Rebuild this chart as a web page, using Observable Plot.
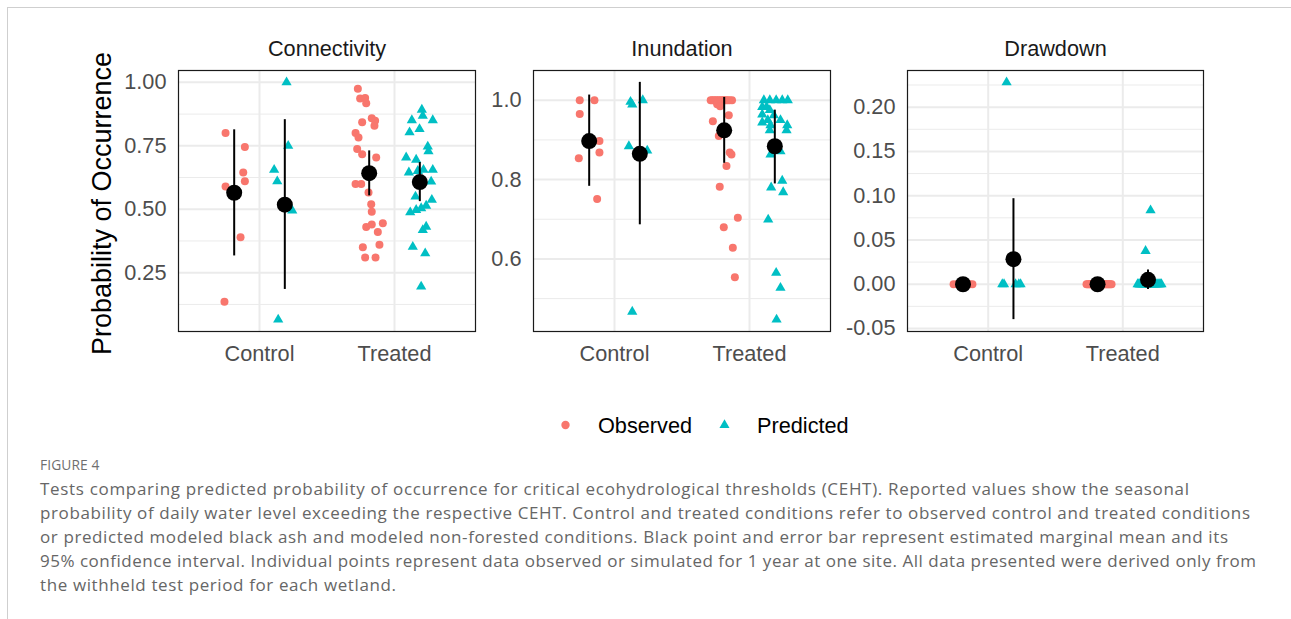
<!DOCTYPE html>
<html>
<head>
<meta charset="utf-8">
<script src="https://cdn.jsdelivr.net/npm/d3@7"></script>
<script src="https://cdn.jsdelivr.net/npm/@observablehq/plot@0.6"></script>
<style>
  html, body { margin: 0; padding: 0; background: #fff; }
  body { width: 1291px; height: 619px; overflow: hidden; position: relative; font-family: "Liberation Sans", Arial, sans-serif; }
  #card { position: absolute; left: 7px; top: 7px; width: 1320px; height: 640px; border-top: 1px solid #cfcfcf; border-left: 1px solid #cfcfcf; }
  .panel { position: absolute; top: 25px; }
  .panel svg { display: block; }
  #legend { position: absolute; left: 0; top: 405px; }
  #figlabel { position: absolute; left: 40px; top: 455px; font: 13.8px "Open Sans", Lato, sans-serif; color: #6f6f6f; letter-spacing: 0.1px; }
  .capline { position: absolute; left: 40px; white-space: nowrap; font-family: "Open Sans", Lato, sans-serif; font-size: 17px; line-height: 24px; color: #666; }
</style>
</head>
<body>
<div id="card"></div>
<div id="p0" class="panel"></div>
<div id="p1" class="panel"></div>
<div id="p2" class="panel"></div>
<div id="legend"></div>
<div id="figlabel">FIGURE 4</div>
<div id="caption"></div>
<script>
// ---- categories ----
const facets = ["Connectivity", "Inundation", "Drawdown"];
const conditions = ["Control", "Treated"];
const sources = ["Observed", "Predicted"];

// ---- Connectivity: one value per site-year, plus its horizontal jitter (category units) ----
const connControlObs = [0.80, 0.745, 0.645, 0.61, 0.59, 0.39, 0.135];
const connControlObsJit = [-0.064, 0.079, 0.067, 0.079, -0.064, 0.047, -0.072];
const connControlPred = [1.00, 0.75, 0.655, 0.61, 0.495, 0.065];
const connControlPredJit = [0.013, 0.025, -0.079, -0.056, 0.055, -0.049];
const connTreatedObs = [0.975, 0.936, 0.938, 0.918, 0.843, 0.859, 0.849, 0.829, 0.80, 0.783, 0.737, 0.717, 0.704,
  0.599, 0.599, 0.566, 0.52, 0.49, 0.43, 0.44, 0.445, 0.41, 0.35, 0.36, 0.31, 0.31];
const connTreatedObsJit = [-0.084, -0.067, -0.030, -0.022, -0.052, 0.019, 0.044, 0.039, -0.101, -0.079, -0.089, -0.052, 0.052,
  -0.101, -0.059, -0.005, 0.015, 0.019, -0.022, 0.019, 0.101, 0.064, -0.047, 0.076, -0.030, 0.047];
const connTreatedPred = [0.892, 0.868, 0.851, 0.851, 0.816, 0.803, 0.747, 0.728, 0.704, 0.695, 0.645, 0.651, 0.655,
  0.655, 0.609, 0.55, 0.537, 0.514, 0.504, 0.497, 0.488, 0.431, 0.418, 0.352, 0.326, 0.195];
const connTreatedPredJit = [0.015, 0.022, -0.059, 0.096, -0.002, -0.076, 0.059, 0.064, -0.101, -0.027, -0.081, -0.015, 0.096,
  0.027, 0.084, -0.032, 0.089, 0.047, 0.010, -0.027, -0.071, 0.047, 0.022, -0.052, 0.040, 0.010];
// marginal means and 95% CI, order: Control/Observed, Control/Predicted, Treated/Observed, Treated/Predicted
const connMean = [0.565, 0.518, 0.642, 0.607];
const connLower = [0.316, 0.184, 0.553, 0.530];
const connUpper = [0.813, 0.853, 0.730, 0.684];

// ---- Inundation ----
const inunControlObs = [1.0, 1.0, 0.965, 0.897, 0.868, 0.854, 0.751];
const inunControlObsJit = [-0.070, 0.039, -0.070, 0.076, 0.076, -0.077, 0.059];
const inunControlPred = [0.996, 0.989, 1.0, 0.884, 0.873, 0.467];
const inunControlPredJit = [-0.069, -0.056, 0.022, -0.081, 0.055, -0.056];
const inunTreatedObs = [1.0, 1.0, 1.0, 1.0, 1.0, 1.0, 1.0, 1.0, 1.0, 1.0, 1.0, 1.0, 1.0,
  0.99, 0.985, 0.962, 0.947, 0.91, 0.868, 0.863, 0.834, 0.782, 0.704, 0.68, 0.628, 0.554];
const inunTreatedObsJit = [-0.100, -0.088, -0.075, -0.062, -0.050, -0.037, -0.025, -0.012, 0.000, 0.012, 0.025, 0.040, 0.058,
  -0.052, -0.030, 0.034, -0.084, -0.040, 0.041, 0.054, 0.017, -0.033, 0.101, -0.003, 0.064, 0.079];
const inunTreatedPred = [1.0, 1.0, 1.0, 1.0, 1.0, 0.983, 0.983, 0.975, 0.964, 0.962, 0.95, 0.95, 0.944,
  0.937, 0.937, 0.924, 0.924, 0.863, 0.871, 0.797, 0.78, 0.768, 0.699, 0.565, 0.527, 0.447];
const inunTreatedPredJit = [-0.081, -0.037, 0.010, 0.055, 0.096, -0.093, -0.061, -0.037, -0.093, -0.007, -0.052, 0.042, -0.093,
  -0.032, 0.092, -0.037, 0.087, -0.032, 0.042, 0.055, -0.027, 0.062, -0.049, 0.010, 0.042, 0.013];
const inunMean = [0.897, 0.865, 0.924, 0.884];
const inunLower = [0.783, 0.686, 0.841, 0.789];
const inunUpper = [1.013, 1.045, 1.007, 0.975];

// ---- Drawdown ----
const drawControlObs = [0, 0, 0, 0, 0, 0, 0];
const drawControlObsJit = [-0.070, -0.045, -0.020, 0.000, 0.025, 0.050, 0.070];
const drawControlPred = [0, 0, 0, 0, 0, 0.228];
const drawControlPredJit = [-0.083, -0.070, 0.016, 0.040, 0.053, -0.051];
const drawTreatedObs = [0, 0, 0, 0, 0, 0, 0, 0, 0, 0, 0, 0, 0, 0, 0, 0, 0, 0, 0, 0, 0, 0, 0, 0, 0, 0];
const drawTreatedObsJit = [-0.082, -0.074, -0.066, -0.058, -0.050, -0.041, -0.033, -0.025, -0.017, -0.009, -0.001, 0.007, 0.015,
  0.023, 0.031, 0.039, 0.047, 0.055, 0.063, 0.071, 0.079, 0.087, 0.095, 0.104, -0.045, 0.020];
const drawTreatedPred = [0, 0, 0, 0, 0, 0, 0, 0, 0, 0, 0, 0, 0, 0, 0, 0, 0, 0, 0, 0, 0, 0, 0, 0, 0.0375, 0.0835];
const drawTreatedPredJit = [-0.077, -0.069, -0.061, -0.053, -0.045, -0.037, -0.029, -0.021, -0.013, -0.005, 0.003, 0.011,
  0.019, 0.027, 0.035, 0.043, 0.051, 0.059, 0.067, 0.075, 0.083, 0.091, 0.100, -0.060, -0.018, 0.019];
const drawMean = [0, 0.0283, 0, 0.005];
const drawLower = [0, -0.040, 0, -0.006];
const drawUpper = [0, 0.0966, 0, 0.016];

// ---- y-axis breaks ----
const connMajor = [0.25, 0.50, 0.75, 1.00];
const connMinor = [0.125, 0.375, 0.625, 0.875];
const inunMajor = [0.6, 0.8, 1.0];
const inunMinor = [0.5, 0.7, 0.9];
const drawMajor = [-0.05, 0.00, 0.05, 0.10, 0.15, 0.20];
const drawMinor = [-0.025, 0.025, 0.075, 0.125, 0.175, 0.225];

const yTitle = "Probability of Occurrence";
const observedColor = "#F8766D";
const predictedColor = "#00BFC4";

// ---- build tidy rows ----
const dodgeOffset = {Observed: -0.1875, Predicted: 0.1875};
const xPos = (cond, src) => conditions.indexOf(cond) + 1 + dodgeOffset[src];

function points(values, jitter, cond, src) {
  return values.map((v, i) => ({x: xPos(cond, src) + jitter[i], y: v, cond, src}));
}
function summaries(mean, lower, upper) {
  const keys = [["Control", "Observed"], ["Control", "Predicted"], ["Treated", "Observed"], ["Treated", "Predicted"]];
  return keys.map(([cond, src], i) => ({x: xPos(cond, src), mean: mean[i], lower: lower[i], upper: upper[i]}));
}

const panels = [
  {
    name: facets[0], el: "#p0", frameLeft: 178, frameWidth: 297, marginLeft: 110,
    pts: [
      ...points(connControlObs, connControlObsJit, "Control", "Observed"),
      ...points(connControlPred, connControlPredJit, "Control", "Predicted"),
      ...points(connTreatedObs, connTreatedObsJit, "Treated", "Observed"),
      ...points(connTreatedPred, connTreatedPredJit, "Treated", "Predicted")
    ],
    est: summaries(connMean, connLower, connUpper),
    major: connMajor, minor: connMinor, fmt: d => d.toFixed(2), yTitle: true
  },
  {
    name: facets[1], el: "#p1", frameLeft: 533, frameWidth: 297, marginLeft: 70,
    pts: [
      ...points(inunControlObs, inunControlObsJit, "Control", "Observed"),
      ...points(inunControlPred, inunControlPredJit, "Control", "Predicted"),
      ...points(inunTreatedObs, inunTreatedObsJit, "Treated", "Observed"),
      ...points(inunTreatedPred, inunTreatedPredJit, "Treated", "Predicted")
    ],
    est: summaries(inunMean, inunLower, inunUpper),
    major: inunMajor, minor: inunMinor, fmt: d => d.toFixed(1), yTitle: false
  },
  {
    name: facets[2], el: "#p2", frameLeft: 907, frameWidth: 296, marginLeft: 75,
    pts: [
      ...points(drawControlObs, drawControlObsJit, "Control", "Observed"),
      ...points(drawControlPred, drawControlPredJit, "Control", "Predicted"),
      ...points(drawTreatedObs, drawTreatedObsJit, "Treated", "Observed"),
      ...points(drawTreatedPred, drawTreatedPredJit, "Treated", "Predicted")
    ],
    est: summaries(drawMean, drawLower, drawUpper),
    major: drawMajor, minor: drawMinor, fmt: d => d.toFixed(2), yTitle: false
  }
];

const fontFamily = "'Liberation Sans', Arial, Helvetica, sans-serif";
const textSize = 21.7;

for (const p of panels) {
  // ggplot-style continuous expansion: 5% of the data range on each side
  const all = p.pts.map(d => d.y).concat(p.est.map(d => d.lower), p.est.map(d => d.upper));
  const [lo, hi] = d3.extent(all);
  const pad = (hi - lo) * 0.05;
  const marginRight = 2;

  const marks = [
    Plot.ruleY(p.minor, {stroke: "#ebebeb", strokeWidth: 1}),
    Plot.ruleY(p.major, {stroke: "#ebebeb", strokeWidth: 2}),
    Plot.ruleX([1, 2], {stroke: "#ebebeb", strokeWidth: 2}),
    Plot.dot(p.pts.filter(d => d.src === sources[0]), {x: "x", y: "y", r: 4, fill: observedColor, symbol: "circle"}),
    Plot.dot(p.pts.filter(d => d.src === sources[1]), {x: "x", y: "y", r: 3.8, fill: predictedColor, symbol: "triangle"}),
    Plot.ruleX(p.est, {x: "x", y1: "lower", y2: "upper", stroke: "black", strokeWidth: 2}),
    Plot.dot(p.est, {x: "x", y: "mean", r: 8, fill: "black"}),
    Plot.frame({stroke: "#1a1a1a", strokeWidth: 1.2}),
    Plot.axisY({ticks: p.major, tickFormat: p.fmt, anchor: "left", tickSize: 0, tickPadding: 12,
      fontSize: textSize, color: "#4d4d4d", label: null}),
    Plot.axisX({ticks: [1, 2], tickFormat: d => conditions[d - 1], anchor: "bottom", tickSize: 0, tickPadding: 14,
      fontSize: textSize, color: "#4d4d4d", label: null}),
    Plot.text([p.name], {text: d => d, frameAnchor: "top", lineAnchor: "middle", dy: -21,
      fontSize: textSize, fill: "#1a1a1a"})
  ];
  if (p.yTitle) {
    marks.push(Plot.text([yTitle], {text: d => d, frameAnchor: "left", textAnchor: "middle", rotate: -90,
      dx: -76, dy: 2.5, fontSize: 27, fill: "black"}));
  }

  const chart = Plot.plot({
    width: p.marginLeft + p.frameWidth + marginRight,
    height: 351,
    marginTop: 45,
    marginBottom: 45,
    marginLeft: p.marginLeft,
    marginRight,
    x: {domain: [0.4, 2.6], axis: null},
    y: {domain: [lo - pad, hi + pad], axis: null},
    style: {fontFamily, background: "transparent", maxWidth: "none", overflow: "visible"},
    marks
  });
  const holder = document.querySelector(p.el);
  holder.style.left = (p.frameLeft - p.marginLeft) + "px";
  holder.appendChild(chart);
}

// ---- legend ----
{
  const svg = d3.select("#legend").append("svg").attr("width", 1291).attr("height", 40)
    .style("font-family", fontFamily).style("display", "block");
  const cy = 20;
  svg.append("circle").attr("cx", 565.5).attr("cy", cy).attr("r", 4.2).attr("fill", observedColor);
  svg.append("text").attr("x", 598).attr("y", cy).attr("dy", "0.35em").attr("font-size", textSize)
    .attr("fill", "black").text(sources[0]);
  svg.append("path").attr("d", d3.symbol(d3.symbolTriangle, 44)()).attr("transform", `translate(724.5,${cy})`)
    .attr("fill", predictedColor);
  svg.append("text").attr("x", 757).attr("y", cy).attr("dy", "0.35em").attr("font-size", textSize)
    .attr("fill", "black").text(sources[1]);
}

// ---- caption (each line is set to its typeset measure) ----
const captionLines = [
  "Tests comparing predicted probability of occurrence for critical ecohydrological thresholds (CEHT). Reported values show the seasonal",
  "probability of daily water level exceeding the respective CEHT. Control and treated conditions refer to observed control and treated conditions",
  "or predicted modeled black ash and modeled non-forested conditions. Black point and error bar represent estimated marginal mean and its",
  "95% confidence interval. Individual points represent data observed or simulated for 1 year at one site. All data presented were derived only from",
  "the withheld test period for each wetland."
];
const captionMeasure = [1149, 1210, 1188, 1216, 356];
{
  const cap = document.getElementById("caption");
  captionLines.forEach((line, i) => {
    const div = document.createElement("div");
    div.className = "capline";
    div.style.top = (477 + i * 24) + "px";
    div.textContent = line;
    cap.appendChild(div);
    const natural = div.getBoundingClientRect().width;
    const spacing = (captionMeasure[i] - natural) / Math.max(1, line.length - 1);
    div.style.letterSpacing = spacing.toFixed(3) + "px";
  });
}
</script>
</body>
</html>
